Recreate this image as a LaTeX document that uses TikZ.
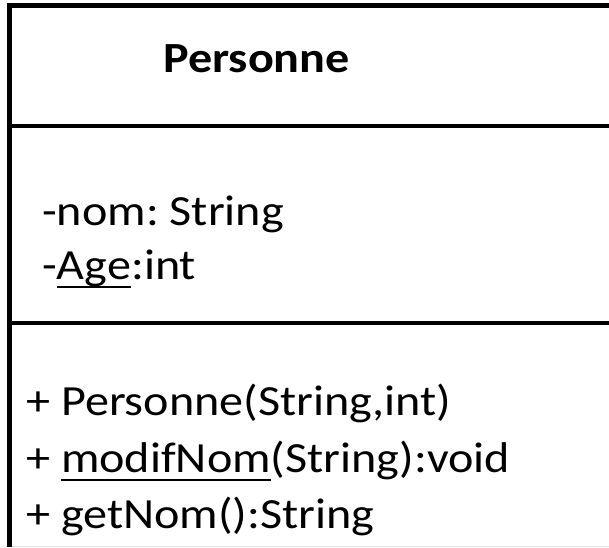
\documentclass[tikz,border=0pt]{standalone}
\usepackage{fontspec}
\setmainfont{Carlito}[FakeStretch=1.12]
\usepackage{tikz}
\usetikzlibrary{positioning}
% underline for static members
\newcommand{\staticul}[1]{\setbox0\hbox{#1}\rlap{\rule[-9.25pt]{\wd0}{2.5pt}}\box0}

\begin{document}
\frenchspacing
\begin{tikzpicture}[x=1pt, y=-1pt,
    member/.style={anchor=base west, inner sep=0pt, font=\fontsize{43}{52}\selectfont},
    frame/.style={line width=4.5pt, line cap=butt}]
  \useasboundingbox (0,0) rectangle (609,547);
  % class box (open at the right and at the bottom)
  \coordinate (tl) at (9.5,5.5);
  \coordinate (tr) at (609,5.5);
  \coordinate (bl) at (9.5,547);
  \draw[frame] (bl) -- (tl) -- (tr);
  \draw[frame] (9.5,126) -- (609,126);
  \draw[frame] (9.5,323) -- (609,323);
  \draw[black!12, line width=1pt] (12,546.5) -- (609,546.5);
  % name
  \node[member, font=\fontsize{43}{52}\selectfont\bfseries] (name) at (163,72) {Personne};
  % attributes
  \node[member] (nom) at (42,225) {-nom: String};
  \node[member] (age) at (42,279) {-\staticul{Age}:int};
  % methods
  \node[member] (ctor) at (26,415) {+ Personne(String,int)};
  \node[member] (modif) at (26,472) {+ \staticul{modifNom}(String):void};
  \node[member] (getnom) at (26,528) {+ getNom():String};
\end{tikzpicture}
\end{document}
